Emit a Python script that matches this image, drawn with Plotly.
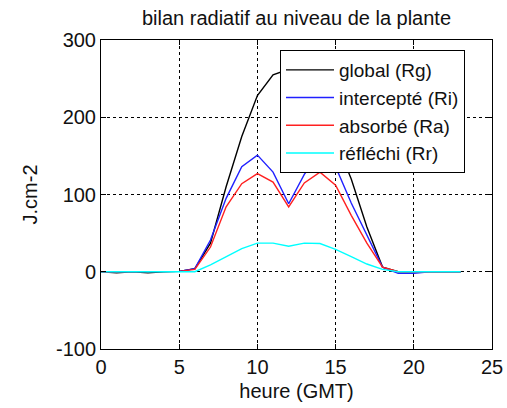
import plotly.graph_objects as go

heures = list(range(0, 24))
global_rg = [0, -1.5, 0, -1.5, 0, 0.5, 4, 37, 110, 175, 228, 255, 262, 250, 220, 170, 120, 58, 6, 0, 0, 0, 0, 0]
intercepte_ri = [0, 0, 0, 0, 0, 0.5, 4, 41, 95, 136, 151, 129, 88, 126, 153, 136, 89, 47, 6, -2, -2, 0, 0, 0]
absorbe_ra = [0, 0, 0, 0, 0, 0.5, 3, 32, 84, 114, 127, 116, 84, 115, 129, 112, 73, 37, 6, 0, 0, 0, 0, 0]
reflechi_rr = [0, 0, 0, 0, 0, 0, 0, 9, 19, 30, 37, 37, 33, 37, 36.5, 29, 19.5, 10, 3, 0, 0, 0, 0, 0]

x_ticks = [0, 5, 10, 15, 20, 25]
x_ticklabels = ["0", "5", "10", "15", "20", "25"]
y_ticks = [-100, 0, 100, 200, 300]
y_ticklabels = ["-100", "0", "100", "200", "300"]

series = [
    ("global (Rg)", global_rg, "#000000"),
    ("intercepté (Ri)", intercepte_ri, "#2020ff"),
    ("absorbé (Ra)", absorbe_ra, "#ff2020"),
    ("réfléchi (Rr)", reflechi_rr, "#00ffff"),
]

FONT = "Liberation Sans, Arial, sans-serif"
FS = 20

fig = go.Figure()
for name, vals, col in series:
    fig.add_trace(go.Scatter(x=heures, y=vals, mode="lines", name=name,
                             line=dict(color=col, width=1.4)))

axis_common = dict(
    showline=True, linecolor="black", linewidth=1, mirror="ticks",
    ticks="inside", ticklen=5, tickcolor="black",
    showgrid=True, gridcolor="black", gridwidth=1, griddash="3px,3px",
    zeroline=False, automargin=False,
    tickfont=dict(family=FONT, size=FS, color="#111"),
)

fig.update_xaxes(range=[0, 25], tickvals=x_ticks, ticktext=x_ticklabels,
                 title=dict(text="heure (GMT)", font=dict(family=FONT, size=FS, color="#111"), standoff=6),
                 **axis_common)
fig.update_yaxes(range=[-100, 300], tickvals=y_ticks, ticktext=y_ticklabels,
                 title=dict(text="J.cm-2", font=dict(family=FONT, size=FS, color="#111"), standoff=12),
                 **axis_common)

fig.update_layout(
    width=507, height=408,
    margin=dict(l=101, r=15, t=40, b=59),
    paper_bgcolor="white", plot_bgcolor="white",
    title=dict(text="bilan radiatif au niveau de la plante", x=0.5, xref="paper",
               y=1 - 18 / 408, yanchor="middle", yref="container",
               font=dict(family=FONT, size=FS, color="#111"), automargin=False),
    legend=dict(x=(280 - 101) / 391, y=(349 - 50) / 309, xanchor="left", yanchor="top",
                bgcolor="white", bordercolor="black", borderwidth=1, itemwidth=48,
                font=dict(family=FONT, size=19, color="#111"), tracegroupgap=0),
    showlegend=True,
)

fig.write_html("out.html", config={"displayModeBar": False},
               post_script="document.body.style.margin='0';document.body.style.padding='0';")
